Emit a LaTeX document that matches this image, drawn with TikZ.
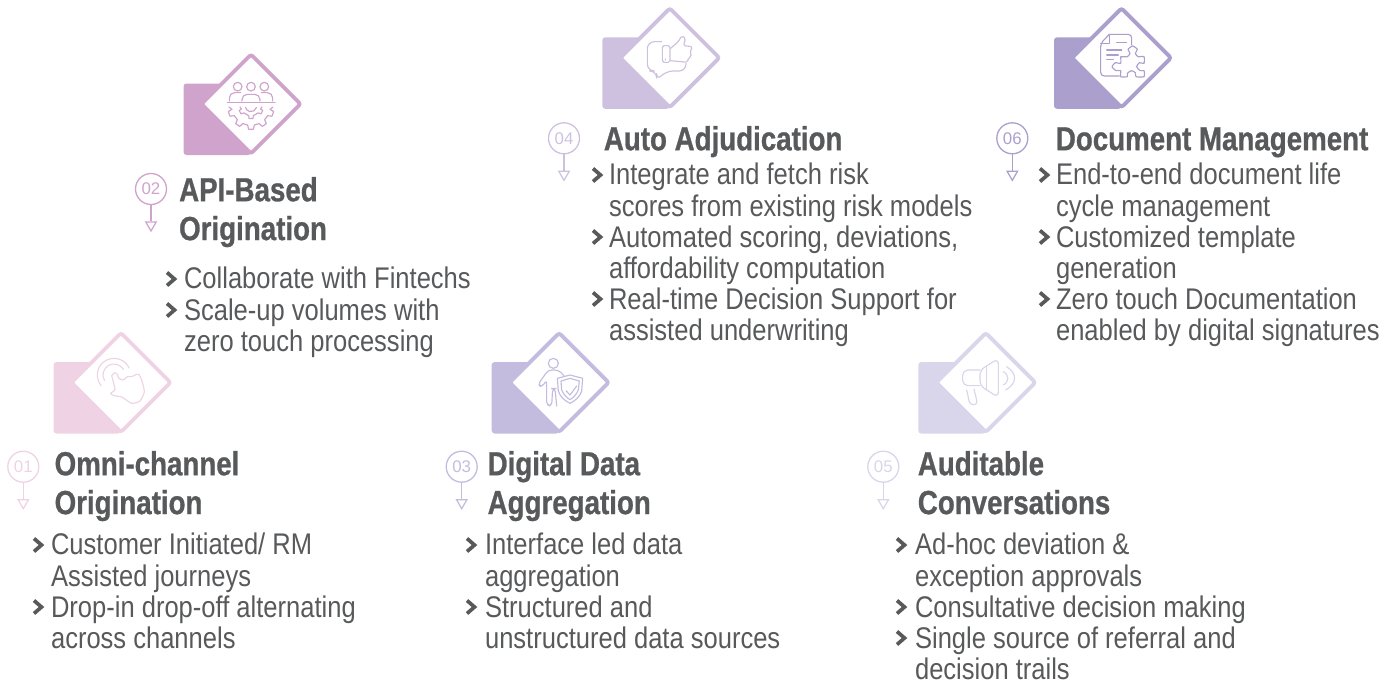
\documentclass[tikz,border=0pt]{standalone}
\usepackage{fontspec}
\setmainfont{Liberation Sans}[FakeStretch=0.855, BoldFeatures={FakeStretch=0.83, FakeBold=0.8}]
\newfontfamily\numfont{Liberation Sans}
\usetikzlibrary{shapes.geometric}
\definecolor{cardA}{HTML}{EFD3E4}
\definecolor{cardB}{HTML}{CFA3CC}
\definecolor{cardC}{HTML}{C4BCDE}
\definecolor{cardD}{HTML}{CEC1DF}
\definecolor{cardE}{HTML}{D9D5EA}
\definecolor{cardF}{HTML}{AB9FCD}
\definecolor{inktext}{HTML}{58595B}
\tikzset{
	headtext/.style={anchor=north west, inner sep=0pt, align=left, text=inktext, font=\fontsize{19pt}{22.1pt}\selectfont\bfseries},
	bodytext/.style={anchor=north west, inner sep=0pt, align=left, text=inktext, font=\fontsize{17pt}{17.57pt}\selectfont},
	numcircle/.style={circle, draw=#1, text=#1, line width=0.74pt, minimum size=0.62cm, inner sep=0pt, font=\numfont\fontsize{9.6pt}{10pt}\selectfont},
	tipmark/.style={regular polygon, regular polygon sides=3, shape border rotate=180, draw=#1, line width=0.7pt, minimum size=0.24cm, inner sep=0pt},
	chevron/.style={draw=inktext, line width=2.1pt},
	icon/.style={draw=#1, line width=0.65pt, line join=round, line cap=round}
}
\begin{document}
\begin{tikzpicture}[x=0.02cm, y=-0.02cm]
	\useasboundingbox (0,0) rectangle (1397,684);
	% cards
	\foreach \rx/\ry/\col in {53.5/362/cardA, 183.5/83.5/cardB, 491.7/362/cardC, 602.3/37.3/cardD, 918.3/362/cardE, 1054/37.3/cardF} {
		\begin{scope}[shift={(\rx,\ry)}]
			\fill[\col, rounded corners=0.06cm] (0,0) rectangle (67.5,71.5);
			\draw[\col, fill=white, line width=2.2pt, rounded corners=0.05cm] (67.5,-29) -- (117,20.5) -- (67.5,70) -- (18,20.5) -- cycle;
		\end{scope}
	}
	% numbers
	\foreach \nm/\nx/\ny/\col in {01/23.3/466.7/cardA, 02/151/189/cardB, 03/461.7/466.7/cardC, 04/564/138.3/cardD, 05/883.3/466.7/cardE, 06/1012.3/138.3/cardF} {
		\node[numcircle=\col] (num\nm) at (\nx,\ny) {\nm};
		\node[tipmark=\col] (tip\nm) at (\nx,\ny+36) {};
		\draw[\col, line width=0.74pt] (num\nm.south) -- (tip\nm.north);
	}
	% headings
	\node[headtext] (head01) at (54.3,447.7) {\strut Omni-channel\\Origination};
	\node[headtext] (head02) at (178.8,173.7) {\strut API-Based\\Origination};
	\node[headtext] (head03) at (487.3,447.7) {\strut Digital Data\\Aggregation};
	\node[headtext] (head04) at (603.5,122.7) {\strut Auto Adjudication};
	\node[headtext] (head05) at (917.5,447.7) {\strut Auditable\\Conversations};
	\node[headtext] (head06) at (1055.5,122.7) {\strut Document Management};
	% lists
	\node[bodytext] (body01) at (50.7,532.3) {\strut Customer Initiated/ RM\\Assisted journeys\\Drop-in drop-off alternating\\across channels};
	\node[bodytext] (body02) at (183.7,266.3) {\strut Collaborate with Fintechs\\Scale-up volumes with\\zero touch processing};
	\node[bodytext] (body03) at (484.7,532.3) {\strut Interface led data\\aggregation\\Structured and\\unstructured data sources};
	\node[bodytext] (body04) at (608.7,162.3) {\strut Integrate and fetch risk\\scores from existing risk models\\Automated scoring, deviations,\\affordability computation\\Real-time Decision Support for\\assisted underwriting};
	\node[bodytext] (body05) at (914.7,532.3) {\strut Ad-hoc deviation \&\\exception approvals\\Consultative decision making\\Single source of referral and\\decision trails};
	\node[bodytext] (body06) at (1055.7,162.3) {\strut End-to-end document life\\cycle management\\Customized template\\generation\\Zero touch Documentation\\enabled by digital signatures};
	% bullets
	\foreach \x/\y in {38/545, 38/607, 171/279, 171/310, 471/545, 471/607, 597/175, 597/237, 597/299, 901/545, 901/607, 901/638, 1044/175, 1044/237, 1044/299} {
		\draw[chevron] (\x-4,\y-6.5) -- (\x+3.5,\y) -- (\x-4,\y+6.5);
	}
	% 01 touch
	\begin{scope}[shift={(0,325)}, scale=1/3]
		\draw[icon=cardA] (342,150) ++(140:50) arc[start angle=140, end angle=335, radius=50];
		\draw[icon=cardA] (342,150) ++(150:33) arc[start angle=150, end angle=330, radius=33];
		\draw[icon=cardA] plot[smooth, tension=0.35] coordinates {(335,152) (345,193) (332,205) (342,212) (365,216) (395,235) (420,228) (433,200) (425,165) (416,148) (405,150) (395,155) (382,155) (370,165) (356,160) (352,148) (344,143) (335,152)};
	\end{scope}
	% 02 people and gears
	\begin{scope}[shift={(130,40)}, scale=1/3]
		\foreach \hx in {323,363,403} {\draw[icon=cardB] (\hx,140) circle (13);}
		\draw[icon=cardB] (292,187) -- (435,187);
		\draw[icon=cardB, rounded corners=3pt] (336,183) -- (336,163) -- (390,163) -- (390,183);
		\draw[icon=cardB, rounded corners=3pt] (298,183) -- (298,158) -- (332,158);
		\draw[icon=cardB, rounded corners=3pt] (428,183) -- (428,158) -- (394,158);
		\begin{scope}[shift={(363,198)}]
			\draw[icon=cardB] (3:66) \foreach \a in {20,55,90,125,160} { -- (\a-10:58) -- (\a-6:70) -- (\a+6:70) -- (\a+10:58)} -- (177:66);
			\draw[icon=cardB] (5:33) \foreach \a in {30,90,150} { -- (\a-13:30) -- (\a-9:38) -- (\a+9:38) -- (\a+13:30)} -- (175:33);
			\draw[icon=cardB] (15:17) arc[start angle=15, end angle=165, radius=17];
		\end{scope}
	\end{scope}
	% 03 person and shield
	\begin{scope}[shift={(440,325)}, scale=1/3]
		\draw[icon=cardC] (340,115) circle (15);
		\draw[icon=cardC, rounded corners=2pt] (372,152) -- (355,135) -- (325,135) -- (294,178) -- (305,187) -- (320,165) -- (320,241) -- (335,243) -- (338,190) -- (345,190) -- (350,243);
		\draw[icon=cardC] (352,160) -- (390,150) -- (428,160) -- (425,198) .. controls (420,215) and (405,228) .. (390,235) .. controls (375,228) and (360,215) .. (355,198) -- cycle;
		\draw[icon=cardC] (363,168) -- (390,160) -- (418,168) -- (415,195) .. controls (410,208) and (400,218) .. (390,224) .. controls (380,218) and (370,208) .. (365,195) -- cycle;
		\draw[icon=cardC] (378,197) -- (390,210) -- (410,183);
	\end{scope}
	% 04 thumbs up
	\begin{scope}[shift={(540,0)}, scale=1/3]
		\draw[icon=cardD, rounded corners=4pt] (365,125) -- (322,125) -- (322,213) -- (350,213) -- (350,242) -- (378,213) -- (438,213) -- (438,190);
		\draw[icon=cardD, rounded corners=1pt] (367,137) rectangle (390,187);
		\draw[icon=cardD] (377,177) -- (377,180);
		\draw[icon=cardD, rounded corners=1pt] (392,145) -- (415,125) -- (425,107) -- (437,115) -- (430,137) -- (458,140) -- (450,155) -- (455,170) -- (445,173) -- (443,187) -- (392,182);
	\end{scope}
	% 05 megaphone
	\begin{scope}[shift={(860,325)}, scale=1/3]
		\draw[icon=cardE, rounded corners=3pt] (360,135) -- (308,135) -- (308,182) -- (360,182);
		\draw[icon=cardE, rounded corners=3pt] (360,135) -- (415,101) -- (415,217) -- (360,182) -- cycle;
		\draw[icon=cardE] (380,124) -- (380,194);
		\draw[icon=cardE, rounded corners=2pt] (320,195) -- (330,240) -- (353,238) -- (342,192);
		\draw[icon=cardE] (430,140) .. controls (448,150) and (448,170) .. (430,180);
		\draw[icon=cardE] (440,125) .. controls (472,145) and (472,175) .. (437,195);
	\end{scope}
	% 06 document and puzzle
	\begin{scope}[shift={(990,0)}, scale=1/3]
		\draw[icon=cardF, rounded corners=2pt] (358,103) -- (332,130) -- (332,228) -- (388,228);
		\draw[icon=cardF, rounded corners=2pt] (358,103) -- (425,103) -- (425,135);
		\draw[icon=cardF] (332,130) -- (358,130) -- (358,103);
		\draw[icon=cardF] (380,128) -- (410,128);
		\draw[icon=cardF] (350,150) -- (395,150);
		\draw[icon=cardF] (350,165) -- (385,165);
		\draw[icon=cardF] (350,178) -- (370,178);
		\draw[icon=cardF] plot[smooth, tension=0.35] coordinates {(392,170) (412,170) (420,160) (414,148) (428,138) (442,148) (436,160) (444,170) (462,170) (462,190) (448,188) (440,200) (450,212) (462,212) (462,230) (438,230) (436,218) (424,212) (412,220) (412,230) (392,230) (392,212) (378,212) (366,200) (376,188) (392,190) (392,170)};
	\end{scope}
\end{tikzpicture}
\end{document}
